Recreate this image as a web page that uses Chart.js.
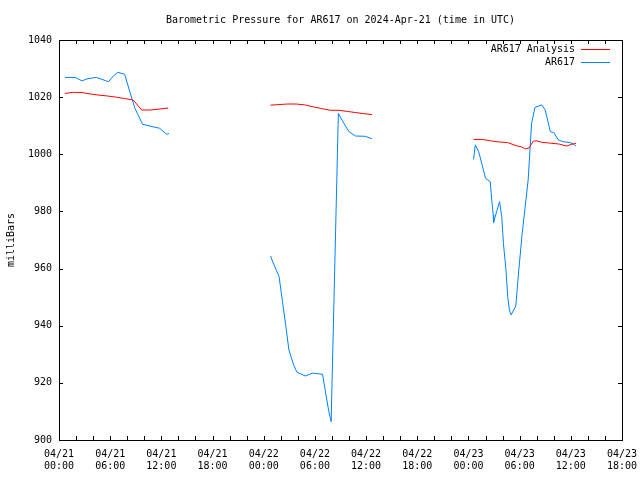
<!DOCTYPE html>
<html>
<head>
<meta charset="utf-8">
<script src="https://cdn.jsdelivr.net/npm/chart.js@4"></script>
<style>
  html, body { margin: 0; padding: 0; background: #fff; }
  #wrap { width: 640px; height: 480px; }
</style>
</head>
<body>
<div id="wrap"><canvas id="myChart" width="640" height="480"></canvas></div>
<script>
// hours since 2024-04-21 00:00 UTC, pressure in mb (null = gap)
var analysisHours = [0.7, 1.7, 2.7, 3.7, 4.7, 5.7, 6.7, 7.7, 8.7, 9.7, 10.7, 11.7, 12.8,
  13.5,
  24.8, 25.8, 26.8, 27.8, 28.8, 29.8, 30.8, 31.8, 32.8, 33.8, 34.8, 35.8, 36.7,
  42,
  48.6, 49.6, 50.6, 51.6, 52.6, 53.6, 54.2, 54.7, 55.1, 55.6, 56.0, 56.6, 57.6, 58.6, 59.5, 60.1, 60.6];
var analysisValues = [1021.3, 1021.7, 1021.6, 1021.1, 1020.7, 1020.4, 1020.0, 1019.5, 1019.0, 1015.5, 1015.5, 1015.8, 1016.2,
  null,
  1017.2, 1017.4, 1017.6, 1017.6, 1017.3, 1016.6, 1016.0, 1015.4, 1015.4, 1015.0, 1014.6, 1014.2, 1013.9,
  null,
  1005.2, 1005.2, 1004.7, 1004.3, 1004.1, 1003.0, 1002.6, 1001.9, 1002.2, 1004.6, 1004.7, 1004.2, 1003.9, 1003.6, 1002.9, 1003.5, 1003.8];

var obsHours = [0.7, 1.9, 2.7, 3.4, 4.4, 5.8, 6.4, 6.9, 7.7, 8.3, 8.9, 9.8, 10.9, 11.8, 12.6, 12.9,
  13.5,
  24.8, 25.2, 25.8, 26.2, 26.6, 26.95, 27.5, 27.9, 28.9, 29.7, 30.9, 31.2, 31.6, 31.9, 32.75, 33.4, 34.0, 34.75, 35.9, 36.7,
  42,
  48.6, 48.8, 49.2, 49.6, 50.0, 50.55, 50.75, 50.9, 50.95, 51.3, 51.65, 51.9, 52.1, 52.4, 52.6, 52.8, 53.0, 53.55, 53.9, 54.3, 54.65, 55.0, 55.4, 55.8, 56.6, 57.0, 57.6, 58.0, 58.55, 59.1, 59.9, 60.3, 60.6];
var obsValues = [1026.9, 1026.9, 1025.7, 1026.5, 1026.9, 1025.4, 1027.5, 1028.7, 1028.0, 1021.9, 1016.1, 1010.5, 1009.7, 1009.1, 1007.0, 1007.3,
  null,
  964.4, 961.3, 957.2, 948.4, 939.7, 931.5, 926.3, 923.7, 922.4, 923.4, 923.0, 917.5, 910.5, 906.4, 1014.3, 1010.8, 1007.9, 1006.4, 1006.3, 1005.4,
  null,
  998.2, 1003.3, 1000.9, 996.3, 991.6, 990.4, 983.4, 978.8, 976.1, 979.9, 983.4, 978.2, 968.8, 959.5, 950.2, 945.5, 943.8, 946.9, 959.5, 972.3, 981.7, 991.0, 1010.8, 1016.4, 1017.3, 1015.5, 1007.9, 1007.6, 1005.0, 1004.4, 1004.1, 1003.6, 1002.9];

var tickDays = ["04/21", "04/21", "04/21", "04/21", "04/22", "04/22", "04/22", "04/22", "04/23", "04/23", "04/23", "04/23"];
var tickTimes = ["00:00", "06:00", "12:00", "18:00", "00:00", "06:00", "12:00", "18:00", "00:00", "06:00", "12:00", "18:00"];

function toPoints(xs, ys) {
  return xs.map(function (x, i) { return { x: x, y: ys[i] }; });
}

var monoFont = "'DejaVu Sans Mono', 'Liberation Mono', monospace";
Chart.defaults.font.family = monoFont;
Chart.defaults.font.size = 10;
Chart.defaults.color = '#000';

// gnuplot style frame, inward ticks, title and legend
var gnuFrame = {
  id: 'gnuFrame',
  afterDraw: function (chart) {
    var c = chart.ctx, a = chart.chartArea;
    var xs = chart.scales.x, ys = chart.scales.y;
    c.save();
    c.strokeStyle = '#000';
    c.lineWidth = 1;
    c.strokeRect(Math.round(a.left) + 0.5, Math.round(a.top) + 0.5,
      Math.round(a.right - a.left), Math.round(a.bottom - a.top));
    c.beginPath();
    for (var h = 2; h < 66; h += 2) {
      var px = Math.round(xs.getPixelForValue(h)) + 0.5;
      c.moveTo(px, a.bottom); c.lineTo(px, a.bottom - 4);
      c.moveTo(px, a.top); c.lineTo(px, a.top + 4);
    }
    for (var v = 920; v < 1040; v += 20) {
      var py = Math.round(ys.getPixelForValue(v)) + 0.5;
      c.moveTo(a.left, py); c.lineTo(a.left + 4, py);
      c.moveTo(a.right, py); c.lineTo(a.right - 4, py);
    }
    c.stroke();

    c.fillStyle = '#000';
    c.font = '10px ' + monoFont;
    c.textAlign = 'center';
    c.textBaseline = 'middle';
    c.fillText('Barometric Pressure for AR617 on 2024-Apr-21 (time in UTC)', (a.left + a.right) / 2, 20);

    c.textAlign = 'right';
    chart.data.datasets.forEach(function (ds, i) {
      var y = 49 + i * 13;
      c.fillText(ds.label, 575, y);
      c.strokeStyle = ds.borderColor;
      c.beginPath();
      c.moveTo(581, y + 0.5); c.lineTo(610, y + 0.5);
      c.stroke();
    });
    c.restore();
  }
};

var ctx = document.getElementById('myChart');
var myChart = new Chart(ctx, {
  type: 'line',
  data: {
    datasets: [{
      label: 'AR617 Analysis',
      data: toPoints(analysisHours, analysisValues),
      borderColor: '#ff0000',
      borderWidth: 1,
      pointRadius: 0,
      spanGaps: false
    },
    {
      label: 'AR617',
      data: toPoints(obsHours, obsValues),
      borderColor: '#0080ff',
      borderWidth: 1,
      pointRadius: 0,
      spanGaps: false
    }]
  },
  options: {
    responsive: false,
    animation: false,
    layout: { padding: { top: 40, right: 18, left: 0, bottom: 0 } },
    plugins: {
      legend: { display: false },
      tooltip: { enabled: false }
    },
    scales: {
      x: {
        type: 'linear',
        min: 0,
        max: 66,
        grid: { display: false, drawTicks: false },
        border: { display: false },
        ticks: {
          stepSize: 6,
          padding: 8,
          maxRotation: 0,
          autoSkip: false,
          callback: function (val) {
            var i = Math.round(val / 6);
            return [tickDays[i], tickTimes[i]];
          }
        },
        afterFit: function (s) {
          s.height = 40;
          s.paddingLeft = 0;
          s.paddingRight = 0;
        }
      },
      y: {
        min: 900,
        max: 1040,
        grid: { display: false, drawTicks: false },
        border: { display: false },
        ticks: {
          stepSize: 20,
          padding: 7,
          callback: function (val) { return String(val); }
        },
        title: { display: true, text: 'milliBars', padding: { top: 5, bottom: 0 } },
        afterFit: function (s) {
          s.width = 59;
          s.paddingTop = 0;
          s.paddingBottom = 0;
        }
      }
    }
  },
  plugins: [gnuFrame]
});
</script>
</body>
</html>
